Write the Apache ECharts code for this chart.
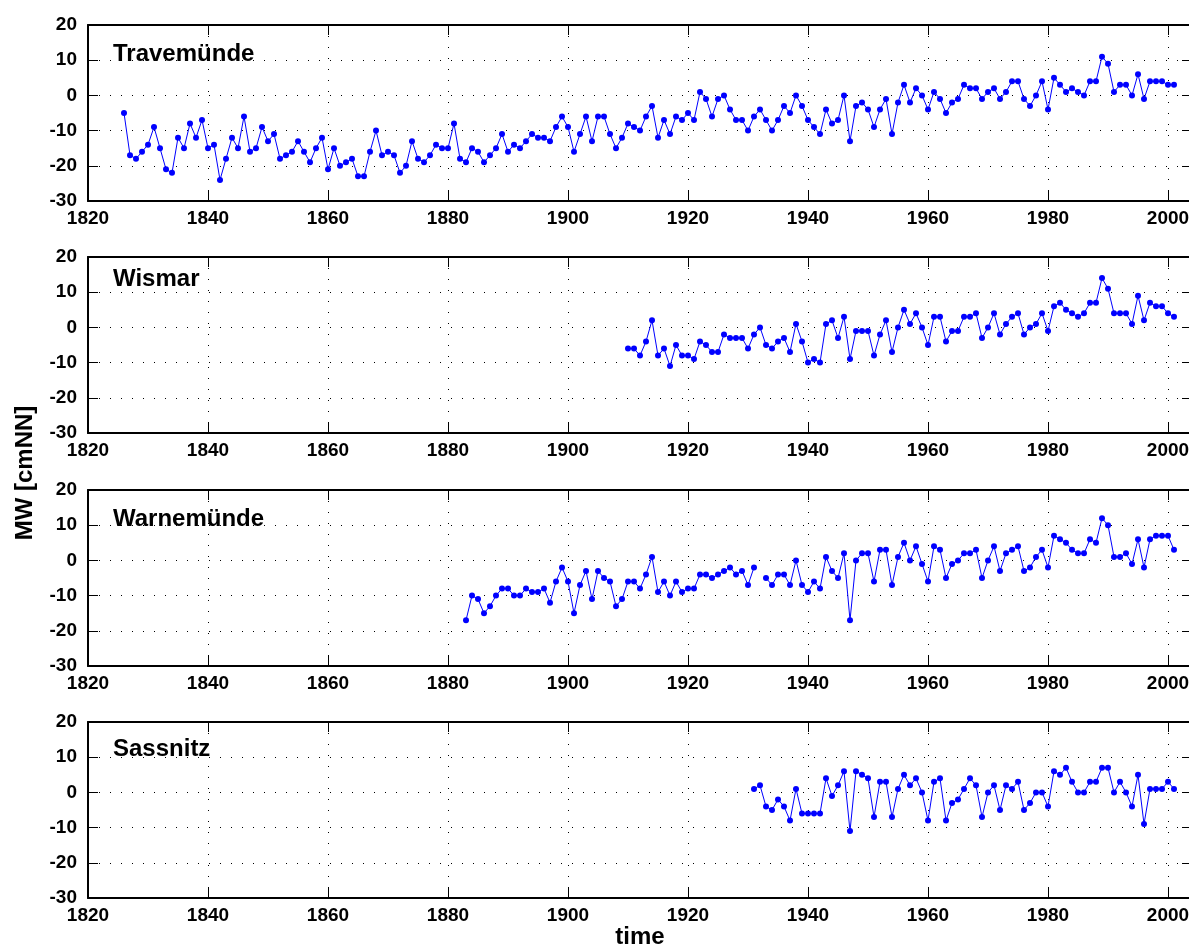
<!DOCTYPE html>
<html>
<head>
<meta charset="utf-8">
<title>MW</title>
<script src="https://cdn.jsdelivr.net/npm/echarts@6/dist/echarts.min.js"></script>
<style>
  html, body { margin: 0; padding: 0; background: #fff; overflow: hidden; }
  #chart { width: 1189px; height: 946px; }
</style>
</head>
<body>
<div id="chart"></div>
<script>
// annual mean water level, cm NN
var stations = ['Travemünde', 'Wismar', 'Warnemünde', 'Sassnitz'];
var startYears = [1826, 1910, 1883, 1931];

var travemuende = [
  -5, -17, -18, -16, -14, -9, -15, -21, -22, -12, -15, -8, -12, -7,
  -15, -14, -24, -18, -12, -15, -6, -16, -15, -9,
  -13, -11, -18, -17, -16, -13, -16, -19, -15, -12,
  -21, -15, -20, -19, -18, -23, -23, -16, -10, -17,
  -16, -17, -22, -20, -13, -18, -19, -17, -14, -15,
  -15, -8, -18, -19, -15, -16, -19, -17, -15, -11,
  -16, -14, -15, -13, -11, -12, -12, -13, -9, -6,
  -9, -16, -11, -6, -13, -6, -6, -11, -15, -12,
  -8, -9, -10, -6, -3, -12, -7, -11, -6, -7,
  -5, -7, 1, -1, -6, -1, 0, -4, -7, -7,
  -10, -6, -4, -7, -10, -7, -3, -5, 0, -3,
  -7, -9, -11, -4, -8, -7, 0, -13, -3, -2,
  -4, -9, -4, -1, -11, -2, 3, -2, 2, 0,
  -4, 1, -1, -5, -2, -1, 3, 2, 2, -1,
  1, 2, -1, 1, 4, 4, -1, -3, 0, 4,
  -4, 5, 3, 1, 2, 1, 0, 4, 4, 11,
  9, 1, 3, 3, 0, 6, -1, 4, 4, 4,
  3, 3
];
var wismar = [
  -6, -6, -8, -4, 2, -8, -6, -11, -5, -8,
  -8, -9, -4, -5, -7, -7, -2, -3, -3, -3,
  -6, -2, 0, -5, -6, -4, -3, -7, 1, -4,
  -10, -9, -10, 1, 2, -3, 3, -9, -1, -1,
  -1, -8, -2, 2, -7, 0, 5, 1, 4, 0,
  -5, 3, 3, -4, -1, -1, 3, 3, 4, -3,
  0, 4, -2, 1, 3, 4, -2, 0, 1, 4,
  -1, 6, 7, 5, 4, 3, 4, 7, 7, 14,
  11, 4, 4, 4, 1, 9, 2, 7, 6, 6,
  4, 3
];
var warnemuende = [
  -17, -10, -11, -15, -13, -10, -8,
  -8, -10, -10, -8, -9, -9, -8, -12, -6, -2,
  -6, -15, -7, -3, -11, -3, -5, -6, -13, -11,
  -6, -6, -8, -4, 1, -9, -6, -10, -6, -9,
  -8, -8, -4, -4, -5, -4, -3, -2, -4, -3,
  -7, -2, null, -5, -7, -4, -4, -7, 0, -7,
  -9, -6, -8, 1, -3, -5, 2, -17, 0, 2,
  2, -6, 3, 3, -7, 1, 5, 0, 4, -1,
  -6, 4, 3, -5, -1, 0, 2, 2, 3, -5,
  0, 4, -3, 2, 3, 4, -3, -2, 1, 3,
  -2, 7, 6, 5, 3, 2, 2, 6, 5, 12,
  10, 1, 1, 2, -1, 6, -2, 6, 7, 7,
  7, 3
];
var sassnitz = [
  1, 2, -4, -5, -2, -4, -8, 1, -6,
  -6, -6, -6, 4, -1, 2, 6, -11, 6, 5,
  4, -7, 3, 3, -7, 1, 5, 2, 4, 0,
  -8, 3, 4, -8, -3, -2, 1, 4, 2, -7,
  0, 2, -5, 2, 1, 3, -5, -3, 0, 0,
  -4, 6, 5, 7, 3, 0, 0, 3, 3, 7,
  7, 0, 3, 0, -4, 5, -9, 1, 1, 1,
  3, 1
];
var seriesValues = [travemuende, wismar, warnemuende, sassnitz];

var xMin = 1820, xMax = 2004, xStep = 20;
var yMin = -30, yMax = 20, yStep = 10;

var font = '"Liberation Sans", Arial, Helvetica, sans-serif';
var gridTops = [25, 257, 490, 722];
var titleY = [56, 281, 521, 751];

var chart = echarts.init(document.getElementById('chart'));

var grids = [], xAxes = [], yAxes = [], series = [], graphics = [];

function dotted() {
  return { show: true, lineStyle: { color: '#000', width: 1, type: [1, 10] } };
}

for (var i = 0; i < stations.length; i++) {
  grids.push({ left: 88, top: gridTops[i], width: 1104, height: 176, outerBoundsMode: 'none', containLabel: false });

  // bottom x axis with labels
  xAxes.push({
    type: 'value', gridIndex: i, min: xMin, max: xMax, interval: xStep,
    position: 'bottom',
    axisLine: { onZero: false, lineStyle: { color: '#000', width: 2 } },
    axisTick: { inside: true, length: 10, lineStyle: { color: '#000', width: 1 } },
    axisLabel: {
      margin: 8, color: '#000', fontSize: 19, fontWeight: 'bold', fontFamily: font,
      showMaxLabel: false,
      formatter: function (v) { return v % 20 === 0 ? String(v) : ''; }
    },
    splitLine: dotted()
  });
  // top mirror
  xAxes.push({
    type: 'value', gridIndex: i, min: xMin, max: xMax, interval: xStep,
    position: 'top',
    axisLine: { onZero: false, lineStyle: { color: '#000', width: 2 } },
    axisTick: { inside: true, length: 10, lineStyle: { color: '#000', width: 1 } },
    axisLabel: { show: false },
    splitLine: { show: false }
  });

  yAxes.push({
    type: 'value', gridIndex: i, min: yMin, max: yMax, interval: yStep,
    position: 'left',
    axisLine: { show: true, onZero: false, lineStyle: { color: '#000', width: 2 } },
    axisTick: { show: true, inside: true, length: 10, lineStyle: { color: '#000', width: 1 } },
    axisLabel: { margin: 11, color: '#000', fontSize: 19, fontWeight: 'bold', fontFamily: font },
    splitLine: dotted()
  });
  yAxes.push({
    type: 'value', gridIndex: i, min: yMin, max: yMax, interval: yStep,
    position: 'right',
    axisLine: { show: true, onZero: false, lineStyle: { color: '#000', width: 2 } },
    axisTick: { show: true, inside: true, length: 10, lineStyle: { color: '#000', width: 1 } },
    axisLabel: { show: false },
    splitLine: { show: false }
  });

  var vals = seriesValues[i];
  var pts = [];
  for (var k = 0; k < vals.length; k++) {
    pts.push([startYears[i] + k, vals[k]]);
  }
  series.push({
    name: stations[i],
    type: 'line',
    xAxisIndex: i * 2,
    yAxisIndex: i * 2,
    data: pts,
    connectNulls: false,
    symbol: 'circle',
    symbolSize: 6,
    showAllSymbol: true,
    animation: false,
    lineStyle: { color: '#0000ff', width: 1 },
    itemStyle: { color: '#0000ff' }
  });

  graphics.push({
    type: 'text', left: 113, top: titleY[i] - 14,
    style: { text: stations[i], fill: '#000', font: 'bold 24px ' + font }
  });
}

graphics.push({
  type: 'text', x: 25, y: 473, rotation: Math.PI / 2,
  style: { text: 'MW [cmNN]', fill: '#000', font: 'bold 24px ' + font, align: 'center', verticalAlign: 'middle' }
});
graphics.push({
  type: 'text', x: 640, y: 937,
  style: { text: 'time', fill: '#000', font: 'bold 24px ' + font, align: 'center', verticalAlign: 'middle' }
});

chart.setOption({
  backgroundColor: '#fff',
  animation: false,
  grid: grids,
  xAxis: xAxes,
  yAxis: yAxes,
  series: series,
  graphic: graphics
});
</script>
</body>
</html>
